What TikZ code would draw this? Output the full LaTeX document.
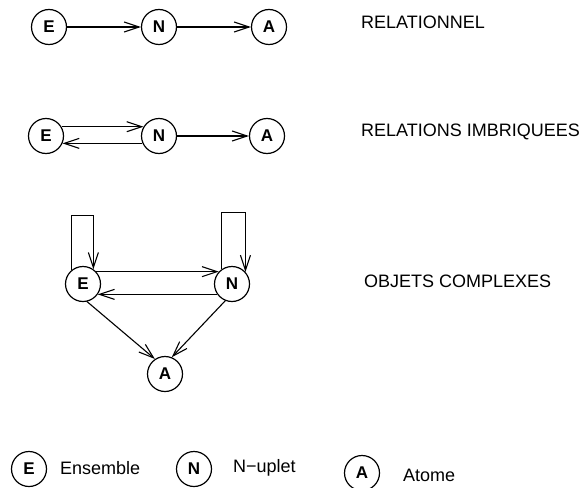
\documentclass[tikz,border=0pt]{standalone}
\usepackage{fontspec}
\setmainfont{Liberation Sans}
\usepackage{tikz}
\usetikzlibrary{arrows.meta}

\begin{document}
\begin{tikzpicture}[x=1pt,y=-1pt,
  som/.style={draw,circle,line width=1.2pt,minimum size=35pt,inner sep=0pt,font=\fontsize{17}{17}\selectfont\bfseries},
  txt/.style={anchor=west,inner sep=0pt,font=\fontsize{18}{18}\selectfont},
  fl/.style={-{Straight Barb[length=15pt,width=10pt,line width=1.1pt]},line width=1.1pt}]
  \useasboundingbox (0,0) rectangle (585,487);
  % relationnel
  \node[som] (e1) at (49,27) {E};
  \node[som] (n1) at (159,27) {N};
  \node[som] (a1) at (269,27) {A};
  \draw[fl] (e1) -- (n1);
  \draw[fl] (n1) -- (a1);
  \node[txt] (t1) at (361,22) {RELATIONNEL};
  % relations imbriquees
  \node[som] (e2) at (46,136) {E};
  \node[som] (n2) at (159,136) {N};
  \node[som] (a2) at (267,136) {A};
  \draw[fl] (e2.31) -- (n2.149);
  \draw[fl] (n2.-156) -- (e2.-24);
  \draw[fl] (n2) -- (a2);
  \node[txt] (t2) at (361,132) {RELATIONS IMBRIQUEES};
  % objets complexes
  \node[som] (e3) at (83,284) {E};
  \node[som] (n3) at (232,284) {N};
  \node[som] (a3) at (165,374) {A};
  \draw[fl] (e3.131) -- ++(0,-55) -| (e3.55);
  \draw[fl] (n3.125) -- ++(0,-57) -| (n3.42);
  \draw[fl] (e3.43) -- (n3.137);
  \draw[fl] (n3.-145) -- (e3.-35);
  \draw[fl] (e3.-77) -- (a3.124);
  \draw[fl] (n3.-112) -- (a3.68);
  \node[txt] (t3) at (364,281) {OBJETS COMPLEXES};
  % legende
  \node[som] (le) at (29,469) {E};
  \node[som] (ln) at (194,469) {N};
  \node[som] (la) at (362,473) {A};
  \node[txt] (te) at (60,468) {Ensemble};
  \node[txt] (tn) at (233,468) {N−uplet};
  \node[txt] (ta) at (403,475) {Atome};
\end{tikzpicture}
\end{document}
